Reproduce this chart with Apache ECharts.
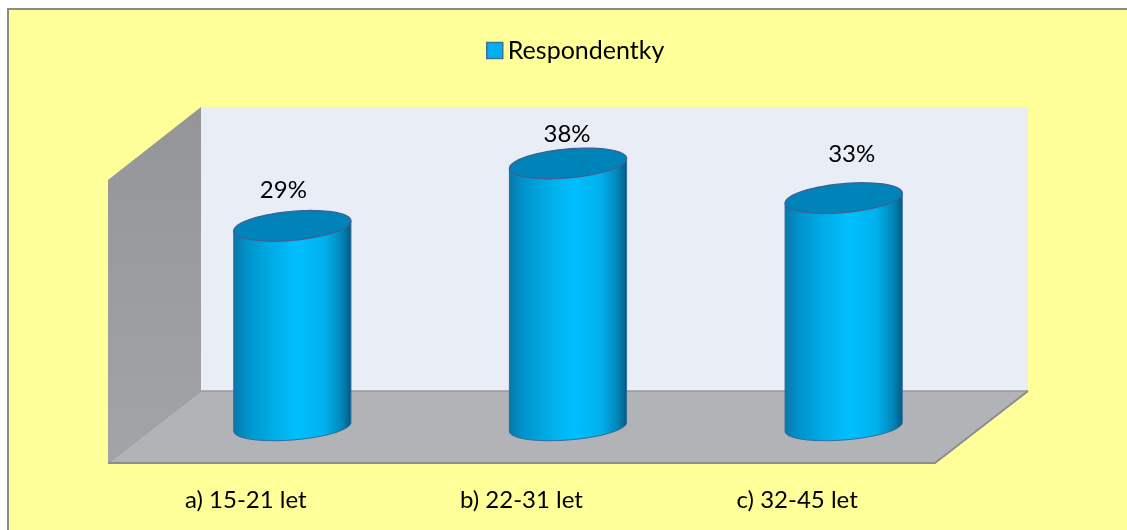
<!DOCTYPE html>
<html>
<head>
<meta charset="utf-8">
<style>html,body{margin:0;padding:0;background:#fff}#c{width:1127px;height:530px}</style>
<script src="https://cdn.jsdelivr.net/npm/echarts@6/dist/echarts.min.js"></script>
</head>
<body>
<div id="c"></div>
<script>
const categories = ['a) 15-21 let', 'b) 22-31 let', 'c) 32-45 let'];
const seriesName = 'Respondentky';
const respondentky = [29, 38, 33];

const FONT = 'Lato';
const DEPTH_X = 93, DEPTH_Y = 72;
const LABEL_NUDGE = [[-9, -36], [-1, -29], [8, -44]];

function ringPoints(cx, cy, a, b, s, from, to, n) {
  const pts = [];
  for (let i = 0; i <= n; i++) {
    const t = from + (to - from) * i / n;
    pts.push([cx + a * Math.cos(t), cy + b * Math.sin(t) - s * a * Math.cos(t)]);
  }
  return pts;
}

function renderWalls(params, api) {
  const g = params.coordSys;
  const L = g.x, T = g.y, R = g.x + g.width, B = g.y + g.height;
  const bx = DEPTH_X, by = DEPTH_Y;
  return {
    type: 'group',
    children: [
      { type: 'polygon', shape: { points: [[L + bx, T - by - 1], [R + bx, T - by - 1], [R + bx, B - by], [L + bx, B - by]] },
        style: { fill: '#e9edf6' } },
      { type: 'polygon', shape: { points: [[L, T], [L + bx, T - by - 1], [L + bx, B - by], [L, B]] },
        style: { fill: new echarts.graphic.LinearGradient(0, 0, 0, 1, [
          { offset: 0, color: '#939598' }, { offset: 1, color: '#a2a4a7' }]) } },
      { type: 'polygon', shape: { points: [[L, B], [L + bx, B - by], [R + bx, B - by], [R, B]] },
        style: { fill: '#b1b3b6' } },
      { type: 'polyline', shape: { points: [[L + bx, B - by], [R + bx, B - by]] },
        style: { stroke: '#96989b', lineWidth: 1.5, fill: null } },
      { type: 'polyline', shape: { points: [[L, B], [L + bx, B - by]] },
        style: { stroke: '#96989b', lineWidth: 1, fill: null } },
      { type: 'polyline', shape: { points: [[L, B], [R, B], [R + bx, B - by]] },
        style: { stroke: '#8b8d91', lineWidth: 2, fill: null } }
    ]
  };
}

function renderCylinder(params, api) {
  const i = api.value(0), v = api.value(1);
  const top = api.coord([i, v]);
  const base = api.coord([i, 0]);
  const a = api.size([1, 0])[0] * 0.2125;
  const cx = top[0] + DEPTH_X / 2, ty = top[1] - DEPTH_Y / 2, by = base[1] - DEPTH_Y / 2;
  const b = 14.5, s = 0.085;
  const bottomArc = ringPoints(cx, by, a, 13, 0.075, Math.PI, 0, 60);
  const body = [[cx - a, ty + s * a]].concat(bottomArc, [[cx + a, ty - s * a]]);
  const cap = ringPoints(cx, ty, a, b, s, 0, Math.PI * 2, 90);
  const nudge = LABEL_NUDGE[i];
  return {
    type: 'group',
    children: [
      { type: 'polygon', shape: { points: body },
        style: {
          fill: new echarts.graphic.LinearGradient(0, 0, 1, 0, [
            { offset: 0, color: '#0877a8' },
            { offset: 0.12, color: '#0093cc' },
            { offset: 0.35, color: '#00aee8' },
            { offset: 0.55, color: '#00bfff' },
            { offset: 0.78, color: '#00b0ec' },
            { offset: 0.92, color: '#0086b8' },
            { offset: 1, color: '#05587e' }
          ]),
          stroke: '#2f6aa0', lineWidth: 1
        } },
      { type: 'polygon', shape: { points: cap },
        style: { fill: '#0083b8', stroke: '#3a6298', lineWidth: 1.3 } },
      { type: 'text', x: cx + nudge[0], y: ty + nudge[1],
        style: { text: v + '%', font: '24px ' + FONT, fill: '#000', align: 'center', verticalAlign: 'middle' } }
    ]
  };
}

const chart = echarts.init(document.getElementById('c'), null, { renderer: 'canvas' });
chart.setOption({
  animation: false,
  backgroundColor: '#ffffff',
  graphic: [{
    type: 'rect', z: -10, silent: true,
    shape: { x: 8, y: 9, width: 1140, height: 540 },
    style: { fill: '#ffff99', stroke: '#8a8a8a', lineWidth: 2 }
  }],
  legend: {
    left: 481, top: 33, icon: 'rect', itemWidth: 16, itemHeight: 16, itemGap: 6,
    data: [{ name: seriesName, itemStyle: { color: '#00b0f0', borderColor: '#3f6f9f', borderWidth: 1.5 } }],
    textStyle: { fontFamily: FONT, fontSize: 25, color: '#000' }
  },
  grid: { left: 108, top: 180, width: 827, height: 283, containLabel: false },
  xAxis: {
    type: 'category', data: categories,
    axisLine: { show: false }, axisTick: { show: false }, splitLine: { show: false },
    axisLabel: { margin: 25, fontFamily: FONT, fontSize: 24, color: '#000' }
  },
  yAxis: { type: 'value', min: 0, max: 40.8, show: false },
  series: [
    { name: 'walls', type: 'custom', z: 1, silent: true, clip: false,
      renderItem: renderWalls, encode: { x: 0, y: 1 }, data: [[0, 0]] },
    { name: seriesName, type: 'custom', z: 3, silent: true, clip: false,
      renderItem: renderCylinder, encode: { x: 0, y: 1 },
      itemStyle: { color: '#00b0f0' },
      data: respondentky.map((v, i) => [i, v]) }
  ]
});
</script>
</body>
</html>
